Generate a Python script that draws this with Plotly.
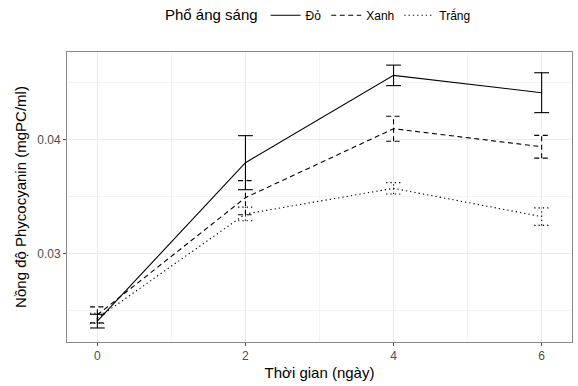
import plotly.graph_objects as go

# ---- data ----
days = [0, 2, 4, 6]
series_names = ["Đỏ", "Xanh", "Trắng"]
do_mean = [0.02405, 0.03795, 0.04561, 0.04409]
do_err = [0.0006, 0.00237, 0.0009, 0.00175]
xanh_mean = [0.0246, 0.03488, 0.04093, 0.03935]
xanh_err = [0.0007, 0.0015, 0.0011, 0.0010]
trang_mean = [0.0243, 0.03345, 0.0357, 0.03322]
trang_err = [0.00044, 0.0006, 0.0005, 0.00077]
x_ticks = [0, 2, 4, 6]
y_ticks = [0.03, 0.04]
y_tick_labels = ["0.03", "0.04"]

means = [do_mean, xanh_mean, trang_mean]
errs = [do_err, xanh_err, trang_err]
dashes = ["solid", "5px,3.5px", "1.3px,3px"]
cap_half = 0.1
FONT = "Liberation Sans"

fig = go.Figure()
for name, m, e, d in zip(series_names, means, errs, dashes):
    fig.add_trace(go.Scatter(
        x=days, y=m, mode="lines", name=name,
        line=dict(color="black", width=1.1, dash=d),
    ))
    ex, ey = [], []
    for xi, mi, ei in zip(days, m, e):
        lo, hi = mi - ei, mi + ei
        ex += [xi, xi, None, xi - cap_half, xi + cap_half, None, xi - cap_half, xi + cap_half, None]
        ey += [lo, hi, None, hi, hi, None, lo, lo, None]
    fig.add_trace(go.Scatter(
        x=ex, y=ey, mode="lines", showlegend=False, hoverinfo="skip",
        line=dict(color="black", width=1.1, dash=d),
    ))

axis_common = dict(
    showline=True, mirror=True, linecolor="#8a8a8a", linewidth=1,
    ticks="outside", ticklen=3, tickcolor="#555", tickwidth=1,
    tickfont=dict(family=FONT, size=12, color="#4D4D4D"),
    gridcolor="#EBEBEB", gridwidth=1, zeroline=False,
)

fig.update_layout(
    width=578, height=386,
    margin=dict(l=67, r=6, t=52, b=44, autoexpand=False),
    plot_bgcolor="white", paper_bgcolor="white",
    font=dict(family=FONT, color="black"),
    xaxis=dict(
        range=[-0.41, 6.41], tickvals=x_ticks,
        title=dict(text="Thời gian (ngày)", font=dict(family=FONT, size=15, color="black"), standoff=5),
        minor=dict(dtick=1, tick0=0, showgrid=True, gridcolor="#F3F3F3", gridwidth=0.8, ticks=""),
        **axis_common,
    ),
    yaxis=dict(
        range=[0.02222, 0.04766], tickvals=y_ticks, ticktext=y_tick_labels,
        title=dict(text="Nồng độ Phycocyanin (mgPC/ml)", font=dict(family=FONT, size=15, color="black"), standoff=6),
        minor=dict(tickvals=[0.025, 0.035, 0.045], showgrid=True, gridcolor="#F3F3F3", gridwidth=0.8, ticks=""),
        **axis_common,
    ),
    legend=dict(
        orientation="h", x=0.5, xanchor="center", y=1.125, yanchor="middle",
        title=dict(text="Phổ áng sáng", font=dict(family=FONT, size=15, color="black"), side="left"),
        font=dict(family=FONT, size=12, color="black"),
        itemwidth=30, tracegroupgap=0, bgcolor="rgba(0,0,0,0)",
    ),
)

fig.write_html("out.html")
